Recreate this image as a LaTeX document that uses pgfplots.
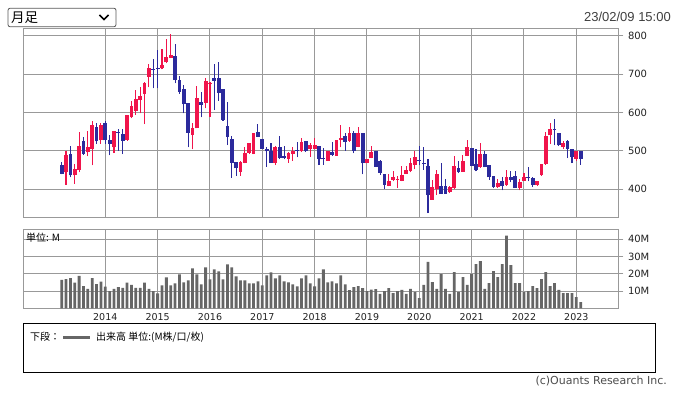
\documentclass[border=0pt]{standalone}
\usepackage{fontspec}
\setmainfont{DejaVu Sans}
\newfontfamily\jp{Noto Sans CJK JP}
\newfontfamily\lib{Liberation Sans}
\usepackage{pgfplots}
\usepackage{pgfplotstable}
\pgfplotsset{compat=1.18}
\definecolor{cred}{HTML}{F0144B}
\definecolor{cblue}{HTML}{2B2A9C}
\definecolor{gridc}{HTML}{999999}
\definecolor{volc}{HTML}{666666}
\definecolor{txt}{HTML}{222222}

% up months (red): x = months since 2013-03
\pgfplotstableread{
x l h bl bh
1 411.3 498.4 443.5 489.7
3 413.9 465.3 435.7 453.1
4 443.5 548.1 448.7 513.2
6 485.3 550.7 495.8 510.6
7 461.8 578.6 505.4 568.1
9 518.5 572.5 527.2 568.1
12 494.0 552.4 508.9 552.4
15 525.5 593.5 528.1 593.5
16 584.8 631.0 587.4 617.0
17 593.5 658.8 604.8 635.3
18 597.8 665.8 632.7 643.1
19 569.9 680.6 648.4 678.0
20 665.8 726.8 693.7 716.3
23 712.9 765.2 715.5 725.1
24 728.6 792.2 731.2 746.0
25 741.6 805.2 743.4 751.2
30 503.7 571.7 541.2 560.4
31 558.6 669.3 558.6 637.0
33 610.9 691.1 625.7 682.4
34 589.1 680.6 675.0 677.6
41 434.9 473.2 445.3 470.6
42 467.1 508.9 468.8 493.2
43 491.5 521.1 495.0 521.1
44 491.5 545.5 491.5 545.5
49 462.7 512.4 468.8 509.8
52 468.8 495.9 479.3 493.2
53 474.1 508.9 491.5 498.5
55 496.7 532.5 498.5 522.9
57 484.5 519.4 503.7 515.0
58 503.7 534.2 505.4 515.0
61 474.1 499.3 474.1 499.3
63 487.2 528.1 487.2 528.1
64 508.9 566.5 528.1 534.2
66 522.9 562.1 526.4 546.4
68 508.9 562.1 510.7 545.5
70 467.1 478.4 467.1 478.4
71 480.2 512.4 481.9 496.7
75 406.9 440.0 408.6 419.9
76 419.9 446.1 424.3 432.1
77 402.5 434.7 424.7 427.3
78 419.9 459.1 421.7 437.4
79 440.0 459.1 440.0 450.4
80 443.5 480.0 446.1 468.7
81 451.3 498.3 463.5 484.4
85 372.0 424.3 372.0 405.1
86 385.1 450.4 399.9 440.0
89 389.4 408.6 391.2 405.1
90 399.9 487.0 402.5 459.1
92 445.2 489.6 445.2 473.9
93 485.3 527.1 487.0 508.8
96 454.8 520.1 456.5 492.2
100 402.5 426.9 405.1 414.7
102 408.6 450.4 410.3 430.4
105 396.4 425.2 403.4 419.1
106 419.9 441.7 420.8 431.3
109 408.6 419.9 411.2 419.9
110 434.7 465.2 436.5 465.2
111 463.5 548.0 465.2 539.3
112 517.5 572.4 540.2 557.6
115 504.4 524.5 509.7 520.1
118 474.0 500.1 479.2 498.4
}\redtab

% down months (blue)
\pgfplotstableread{
x l h bl bh
0 438.3 471.4 440.0 463.6
2 430.5 513.2 435.7 492.3
5 489.7 535.0 492.3 526.3
8 518.5 571.6 524.5 561.1
10 518.5 577.7 527.2 573.3
11 488.0 542.0 518.5 528.9
13 500.1 557.7 547.6 550.2
14 491.5 556.0 526.4 543.8
21 663.2 739.0 712.4 715.0
22 663.2 763.4 714.2 716.8
26 676.3 779.1 685.0 748.6
27 648.4 695.4 654.5 685.0
28 597.8 671.9 621.4 660.6
29 509.0 625.7 547.3 625.7
32 587.4 654.5 619.6 628.3
35 606.5 725.9 683.2 689.3
36 630.9 732.0 651.9 689.3
37 578.7 660.6 580.4 660.6
38 515.0 628.3 536.8 564.7
39 429.6 538.6 468.8 530.7
40 434.9 469.7 454.0 469.7
45 536.8 569.1 536.8 549.0
46 505.4 530.7 505.4 530.7
47 458.4 508.9 498.5 504.6
48 468.8 519.4 468.8 499.3
50 477.6 538.6 480.2 508.9
51 477.6 512.4 480.2 487.2
54 482.8 522.0 499.3 502.0
56 496.7 525.5 498.5 525.5
59 462.7 513.3 479.3 513.3
60 463.6 508.1 477.6 481.9
62 486.3 522.9 489.8 496.7
65 500.2 545.5 523.7 538.6
67 493.2 551.6 500.2 546.4
69 438.3 546.4 467.1 546.4
72 458.4 499.3 458.4 499.3
73 437.0 476.0 443.0 472.0
74 399.9 440.0 411.2 440.0
82 462.6 511.4 472.2 476.6
83 450.4 509.7 465.7 468.3
84 337.2 479.2 384.2 460.9
87 386.8 467.9 386.8 408.6
88 387.7 426.0 387.7 408.6
91 441.7 473.9 443.5 455.7
94 459.1 507.1 460.9 507.1
95 446.1 504.4 448.7 466.1
97 456.5 498.3 456.5 492.2
98 424.3 462.6 430.4 462.6
99 402.5 434.7 405.1 434.7
101 396.4 431.3 406.9 419.9
103 417.3 447.8 424.3 430.4
104 403.4 447.8 403.4 433.0
107 419.9 458.3 430.0 432.6
108 405.1 430.4 411.2 428.6
113 514.0 583.7 553.7 556.3
114 512.3 546.3 514.0 546.3
116 480.9 528.8 505.3 524.5
117 467.9 505.3 483.5 505.3
119 463.5 498.4 479.2 498.4
}\bluetab

% volume (M)
\pgfplotstableread{
x v
0 16.4
1 16.9
2 17.5
3 14.8
4 18.7
5 12.9
6 11.2
7 17.5
8 14.0
9 15.4
10 12.5
11 10.0
12 11.2
13 12.3
14 11.8
15 14.8
16 13.5
17 11.8
18 11.8
19 14.8
20 11.2
21 10.0
22 8.7
23 13.3
24 17.9
25 13.3
26 14.4
27 19.6
28 15.0
29 16.2
30 23.1
31 19.6
32 13.8
33 23.7
34 16.7
35 22.5
36 21.3
37 16.7
38 25.4
39 23.7
40 18.5
41 16.2
42 16.2
43 14.4
44 14.4
45 15.6
46 13.3
47 19.0
48 20.8
49 17.3
50 19.0
51 15.6
52 15.0
53 13.8
54 12.7
55 17.3
56 19.0
57 14.4
58 12.7
59 17.3
60 22.5
61 15.0
62 15.6
63 14.4
64 19.0
65 13.8
66 10.5
67 12.2
68 12.8
69 11.6
70 9.9
71 10.8
72 11.1
73 8.3
74 10.0
75 11.7
76 8.8
77 10.0
78 10.6
79 8.3
80 11.2
81 9.4
82 5.9
83 13.5
84 26.8
85 15.2
86 11.2
87 19.8
88 11.2
89 8.3
90 20.9
91 9.4
92 18.0
93 13.5
94 19.8
95 25.6
96 27.3
97 11.2
98 14.6
99 21.5
100 18.0
101 25.6
102 42.0
103 25.0
104 14.6
105 14.6
106 9.4
107 10.0
108 12.9
109 11.7
110 16.9
111 20.9
112 12.9
113 14.6
114 10.6
115 8.8
116 8.8
117 8.8
118 6.5
119 3.6
}\voltab

\pgfplotsset{
  panel/.style={
    scale only axis, width=595pt,
    xmin=-8.8, xmax=127.63,
    axis line style={gridc, line width=1pt},
    xtick={10,22,34,46,58,70,82,94,106,118},
    xtick style={draw=none},
    ytick pos=right, yticklabel pos=right,
    tick align=outside, major tick length=5pt,
    ytick style={gridc, line width=1pt},
    grid=major, major grid style={gridc, line width=1pt},
    yticklabel style={font=\fontsize{10}{12}\selectfont, text=txt, anchor=west, inner sep=0pt, xshift=4.5pt},
    xticklabel style={font=\fontsize{9.5}{11}\selectfont, text=txt, inner sep=0pt},
    /pgf/number format/assume math mode=true,
  },
  wick/.style={draw=none, mark=none, forget plot,
    error bars/.cd, y dir=plus, y explicit, error mark=none,
    error bar style={draw=#1, solid, line width=1.1pt}},
  body/.style={draw=none, mark=none, forget plot,
    error bars/.cd, y dir=plus, y explicit, error mark=none,
    error bar style={draw=#1, solid, line width=3.8pt}},
}

\begin{document}
\begin{tikzpicture}
\useasboundingbox (0pt,0pt) rectangle (676pt,-395pt);
\fill[white] (0pt,0pt) rectangle (676pt,-395pt);

% selector box
\draw[rounded corners=2pt, draw=black!65, line width=0.8pt, fill=white] (8pt,-8.3pt) rectangle (116pt,-26.7pt);
\node[anchor=west, inner sep=0pt, font=\jp\fontsize{13.5}{15}\selectfont] at (11pt,-17.5pt) {月足};
\draw[line width=1.7pt] (99.5pt,-15pt) -- (104pt,-19.5pt) -- (108.5pt,-15pt);

% date
\node[anchor=east, inner sep=0pt, font=\lib\fontsize{13}{15}\selectfont, text=black!75] at (671pt,-16.5pt) {23/02/09 15:00};

% price panel
\begin{axis}[panel,
  at={(23.3pt,-218pt)}, anchor=south west, height=189.7pt,
  ymin=324.2, ymax=820.1,
  xticklabels={},
  ytick={400,500,600,700,800},
]
\addplot[wick=cred] table[x=x, y=l, y error plus expr=\thisrow{h}-\thisrow{l}] {\redtab};
\addplot[body=cred] table[x=x, y=bl, y error plus expr=\thisrow{bh}-\thisrow{bl}] {\redtab};
\addplot[wick=cblue] table[x=x, y=l, y error plus expr=\thisrow{h}-\thisrow{l}] {\bluetab};
\addplot[body=cblue] table[x=x, y=bl, y error plus expr=\thisrow{bh}-\thisrow{bl}] {\bluetab};
\end{axis}

% volume panel
\begin{axis}[panel,
  at={(23.3pt,-308.3pt)}, anchor=south west, height=79pt,
  ymin=0, ymax=45.7,
  xticklabels={2014,2015,2016,2017,2018,2019,2020,2021,2022,2023},
  ytick={10,20,30,40}, yticklabels={10M,20M,30M,40M},
]
\addplot[ybar, bar width=2.8pt, fill=volc, draw=none] table[x=x, y=v] {\voltab};
\node[anchor=west, inner sep=0pt, font=\jp\fontsize{10}{12}\selectfont] at (axis cs:-8.2,40.6) {単位: M};
\end{axis}

% legend box
\draw[black, line width=0.8pt] (23pt,-323.5pt) rectangle (655pt,-372pt);
\node[anchor=west, inner sep=0pt, font=\jp\fontsize{10}{12}\selectfont] at (30pt,-337pt) {下段：};
\draw[volc, line width=3pt] (63pt,-337pt) -- (90pt,-337pt);
\node[anchor=west, inner sep=0pt, font=\jp\fontsize{10}{12}\selectfont] at (96pt,-337pt) {出来高 単位:(M株/口/枚)};

% copyright
\node[anchor=east, inner sep=0pt, font=\fontsize{11}{12}\selectfont, text=black!70] at (667pt,-381pt) {(c)Ouants Research Inc.};
\end{tikzpicture}
\end{document}
